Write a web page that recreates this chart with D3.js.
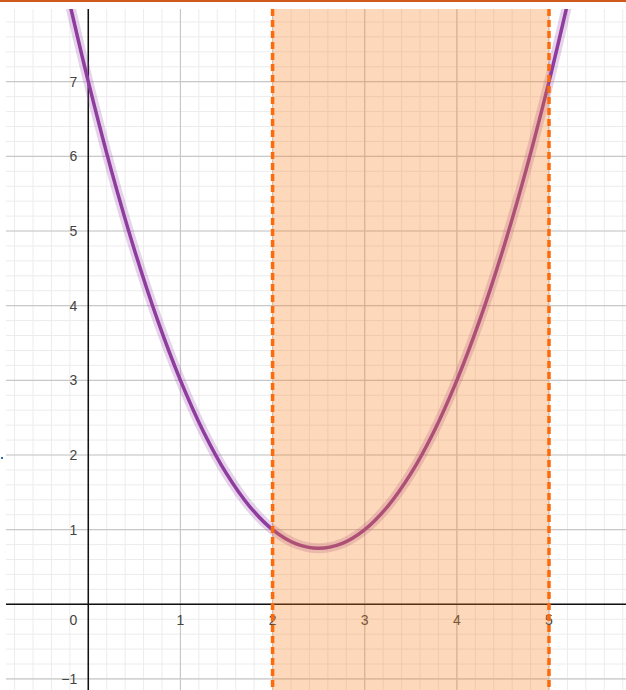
<!DOCTYPE html>
<html>
<head>
<meta charset="utf-8">
<script src="https://cdn.jsdelivr.net/npm/d3@7"></script>
<style>
  html, body { margin: 0; padding: 0; background: #fff; }
  svg { display: block; }
</style>
</head>
<body>
<svg id="chart" width="626" height="690"></svg>
<script>
// Sampled points of the parabola
const curveX = [-0.25, -0.2, 0, 0.25, 0.5, 0.75, 1, 1.25, 1.5, 1.75, 2, 2.25, 2.5,
                2.75, 3, 3.25, 3.5, 3.75, 4, 4.25, 4.5, 4.75, 5, 5.2, 5.25];
const curveY = [8.3125, 8.04, 7, 5.8125, 4.75, 3.8125, 3, 2.3125, 1.75, 1.3125, 1, 0.8125, 0.75,
                0.8125, 1, 1.3125, 1.75, 2.3125, 3, 3.8125, 4.75, 5.8125, 7, 8.04, 8.3125];

// Shaded interval bounds
const bandFrom = 2;
const bandTo = 5;

// Axis tick labels
const xTickValues = [1, 2, 3, 4, 5];
const yTickValues = [-1, 1, 2, 3, 4, 5, 6, 7];
const originLabel = "0";

(function () {
  const W = 626, H = 690;
  const padLeft = 6, padTop = 9;

  const svg = d3.select("#chart");

  const x = d3.scaleLinear().domain([0, 5]).range([88.3, 549]);
  const y = d3.scaleLinear().domain([0, 7]).range([604.3, 81.7]);

  const xMin = x.invert(padLeft), xMax = x.invert(W);
  const yMin = y.invert(H), yMax = y.invert(padTop);

  // top accent bar
  svg.append("rect").attr("x", 0).attr("y", 0).attr("width", W).attr("height", 2)
    .attr("fill", "#cf5a1c");

  svg.append("clipPath").attr("id", "plot")
    .append("rect").attr("x", padLeft).attr("y", padTop)
    .attr("width", W - padLeft).attr("height", H - padTop);

  const g = svg.append("g").attr("clip-path", "url(#plot)");

  // minor grid (0.2 steps)
  const minorX = d3.range(Math.ceil(xMin * 5), Math.floor(xMax * 5) + 1).map(k => k / 5);
  const minorY = d3.range(Math.ceil(yMin * 5), Math.floor(yMax * 5) + 1).map(k => k / 5);
  g.append("g").selectAll("line").data(minorX).join("line")
    .attr("x1", d => x(d)).attr("x2", d => x(d)).attr("y1", padTop).attr("y2", H)
    .attr("stroke", "#ececec").attr("stroke-width", 1);
  g.append("g").selectAll("line").data(minorY).join("line")
    .attr("y1", d => y(d)).attr("y2", d => y(d)).attr("x1", padLeft).attr("x2", W)
    .attr("stroke", "#ececec").attr("stroke-width", 1);

  // major grid
  const majorX = d3.range(Math.ceil(xMin), Math.floor(xMax) + 1);
  const majorY = d3.range(Math.ceil(yMin), Math.floor(yMax) + 1);
  g.append("g").selectAll("line").data(majorX).join("line")
    .attr("x1", d => x(d)).attr("x2", d => x(d)).attr("y1", padTop).attr("y2", H)
    .attr("stroke", "#c8c8c8").attr("stroke-width", 1.2);
  g.append("g").selectAll("line").data(majorY).join("line")
    .attr("y1", d => y(d)).attr("y2", d => y(d)).attr("x1", padLeft).attr("x2", W)
    .attr("stroke", "#c8c8c8").attr("stroke-width", 1.2);

  // axes
  g.append("line").attr("x1", padLeft).attr("x2", W).attr("y1", y(0)).attr("y2", y(0))
    .attr("stroke", "#111").attr("stroke-width", 1.5);
  g.append("line").attr("x1", x(0)).attr("x2", x(0)).attr("y1", padTop).attr("y2", H)
    .attr("stroke", "#111").attr("stroke-width", 1.5);

  // tick labels
  const font = "'Liberation Sans', Arial, sans-serif";
  g.append("g").selectAll("text").data(xTickValues).join("text")
    .attr("x", d => x(d)).attr("y", y(0) + 21)
    .attr("text-anchor", "middle").attr("font-family", font).attr("font-size", 14)
    .attr("fill", "#444").text(d => d);
  g.append("g").selectAll("text").data(yTickValues).join("text")
    .attr("x", x(0) - 11).attr("y", d => y(d) + 5)
    .attr("text-anchor", "end").attr("font-family", font).attr("font-size", 14)
    .attr("fill", "#444").text(d => d < 0 ? "\u2212" + Math.abs(d) : d);
  g.append("text").attr("x", x(0) - 11).attr("y", y(0) + 21)
    .attr("text-anchor", "end").attr("font-family", font).attr("font-size", 14)
    .attr("fill", "#444").text(originLabel);

  // the parabola
  const pts = curveX.map((v, i) => [v, curveY[i]]);
  const line = d3.line().x(d => x(d[0])).y(d => y(d[1])).curve(d3.curveCatmullRom.alpha(0.5));
  g.append("path").attr("d", line(pts)).attr("fill", "none")
    .attr("stroke", "#9b4fb0").attr("stroke-opacity", 0.25).attr("stroke-width", 10)
    .attr("stroke-linecap", "round");
  g.append("path").attr("d", line(pts)).attr("fill", "none")
    .attr("stroke", "#8e3c9e").attr("stroke-width", 3.5).attr("stroke-linecap", "round");

  // shaded interval
  g.append("rect")
    .attr("x", x(bandFrom)).attr("y", padTop)
    .attr("width", x(bandTo) - x(bandFrom)).attr("height", H - padTop)
    .attr("fill", "#fa7e19").attr("fill-opacity", 0.3);

  // dashed boundaries
  g.append("g").selectAll("line").data([bandFrom, bandTo]).join("line")
    .attr("x1", d => x(d)).attr("x2", d => x(d)).attr("y1", padTop).attr("y2", H)
    .attr("stroke", "#fd6a0a").attr("stroke-width", 3.5)
    .attr("stroke-dasharray", "7,4");

  // small marker at the left edge
  svg.append("rect").attr("x", 1).attr("y", 457).attr("width", 2).attr("height", 2)
    .attr("fill", "#2d70b3");
})();
</script>
</body>
</html>
